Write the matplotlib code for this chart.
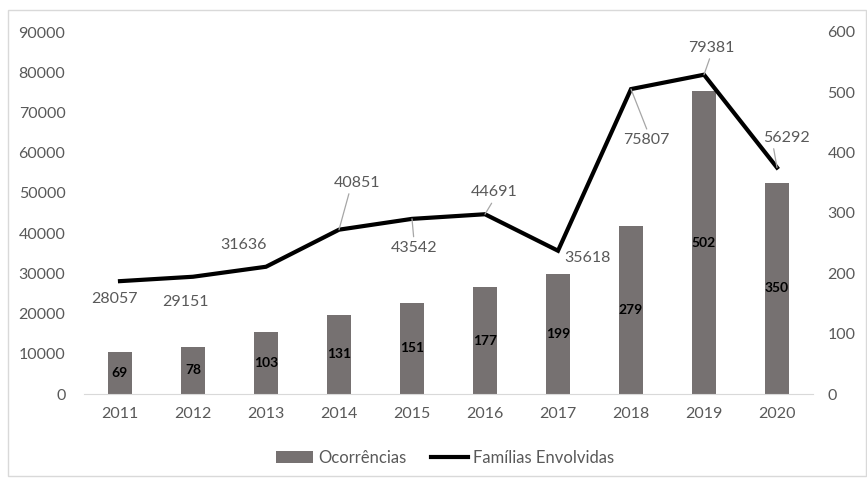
import matplotlib
matplotlib.use("Agg")
import matplotlib.pyplot as plt
from matplotlib.lines import Line2D
from matplotlib.patches import Patch, Rectangle

plt.rcParams["font.family"] = ["Lato", "DejaVu Sans"]

years = ["2011", "2012", "2013", "2014", "2015", "2016", "2017", "2018", "2019", "2020"]
ocorrencias = [69, 78, 103, 131, 151, 177, 199, 279, 502, 350]
familias = [28057, 29151, 31636, 40851, 43542, 44691, 35618, 75807, 79381, 56292]

# label offsets (pixels) for the line values, and where the leader attaches (None = no leader)
label_offsets = [(-6, -18), (-8, -25), (-22, 22), (18, 47), (2, -29),
                 (9, 22), (29, -7), (15, -51), (7, 27), (10, 30)]
leader_rel = [None, None, None, (0.35, 0.0), (0.5, 1.0),
              (0.5, 0.0), None, (0.55, 1.0), (0.5, 0.0), (0.2, 0.0)]

TEXT = "#595959"
BAR = "#767171"

fig = plt.figure(figsize=(8.67, 4.8), dpi=100)
fig.patches.append(Rectangle((8 / 867, 4 / 480), 858 / 867, 466 / 480, transform=fig.transFigure,
                             fill=False, edgecolor="#d9d9d9", linewidth=1))

ax = fig.add_axes([83.5 / 867, 1 - 394 / 480, 730 / 867, 362 / 480])
ax2 = ax.twinx()

x = list(range(len(years)))

# bars on the right axis
ax2.bar(x, ocorrencias, width=0.33, color=BAR, zorder=1)
for xi, v in zip(x, ocorrencias):
    ax2.text(xi, v / 2, str(v), ha="center", va="center", fontsize=10,
             fontweight="bold", color="black")
ax2.set_ylim(0, 600)
ax2.set_yticks(range(0, 601, 100))

# line on the left axis, drawn above the bars
ax.set_zorder(ax2.get_zorder() + 1)
ax.patch.set_visible(False)
ax.plot(x, familias, color="black", linewidth=3, solid_joinstyle="miter", zorder=3)
for xi, v, off, rel in zip(x, familias, label_offsets, leader_rel):
    kw = {}
    if rel is not None:
        kw["arrowprops"] = dict(arrowstyle="-", color="#a6a6a6", lw=0.9,
                                shrinkA=1, shrinkB=0, relpos=rel)
    ax.annotate(str(v), xy=(xi, v), xytext=off, textcoords="offset pixels",
                ha="center", va="center", fontsize=11.5, color=TEXT, **kw)
ax.set_ylim(0, 90000)
ax.set_yticks(range(0, 90001, 10000))
ax.set_xlim(-0.5, len(years) - 0.5)
ax.set_xticks(x)
ax.set_xticklabels(years)

for a in (ax, ax2):
    for s in a.spines.values():
        s.set_visible(False)
    a.tick_params(length=0, labelsize=11.5, colors=TEXT)
ax.spines["bottom"].set_visible(True)
ax.spines["bottom"].set_color("#d9d9d9")
ax.tick_params(axis="y", pad=13)
ax.tick_params(axis="x", pad=9)
ax2.tick_params(axis="y", pad=10)

handles = [Patch(facecolor=BAR, label="Ocorrências"),
           Line2D([0], [0], color="black", linewidth=3, label="Famílias Envolvidas")]
fig.legend(handles=handles, loc="center", bbox_to_anchor=(445 / 867, 1 - 458 / 480),
           ncol=2, frameon=False, fontsize=12, labelcolor=TEXT,
           handlelength=2.2, handletextpad=0.3, columnspacing=1.5)

fig.savefig("out.png", dpi=100)
